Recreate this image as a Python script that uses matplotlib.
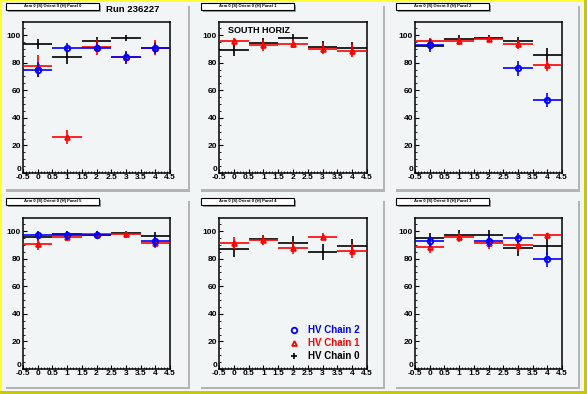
import numpy as np
import matplotlib
matplotlib.use("Agg")
import matplotlib.pyplot as plt
from matplotlib.patches import Rectangle
from matplotlib.lines import Line2D

plt.rcParams["font.family"] = ["Liberation Sans", "DejaVu Sans"]

W, H = 587, 394

# bins (strip groups) on x axis
bins = [0, 1, 2, 3, 4]
xerr = [0.5, 0.5, 0.5, 0.5, 0.5]

# pad titles, left->right, top->bottom
titles = ["Arm 0 (S) Orient 0 (H) Panel 0", "Arm 0 (S) Orient 0 (H) Panel 1",
          "Arm 0 (S) Orient 0 (H) Panel 2", "Arm 0 (S) Orient 0 (H) Panel 5",
          "Arm 0 (S) Orient 0 (H) Panel 4", "Arm 0 (S) Orient 0 (H) Panel 3"]

# HV Chain 0 (black)
chain0 = [[93.5, 83.8, 95.4, 97.6, 91.0],
          [89.4, 94.0, 98.0, 91.4, 91.0],
          [92.0, 97.3, 97.8, 95.4, 85.4],
          [95.6, 97.8, 97.3, 98.3, 96.3],
          [86.9, 94.2, 91.2, 84.9, 89.0],
          [94.9, 97.1, 97.1, 87.6, 89.0]]
chain0_err = [[3.6, 4.6, 3.0, 2.2, 4.0],
              [4.5, 4.0, 2.5, 4.0, 4.0],
              [3.0, 2.5, 2.0, 3.5, 5.0],
              [2.5, 2.5, 2.5, 2.0, 3.0],
              [6.0, 3.0, 5.5, 6.0, 5.5],
              [4.0, 3.5, 4.0, 5.5, 6.5]]

# HV Chain 1 (red)
chain1 = [[77.3, 25.9, 91.3, 84.0, 91.0],
          [96.0, 92.6, 93.9, 90.0, 88.8],
          [96.0, 95.4, 97.3, 93.2, 78.0],
          [90.3, 95.6, 97.8, 97.8, 91.5],
          [91.2, 93.4, 87.6, 95.9, 85.4],
          [88.3, 95.4, 91.2, 89.8, 96.9]]
chain1_err = [[8.0, 5.0, 5.6, 4.0, 5.5],
              [2.2, 4.0, 3.5, 4.0, 4.8],
              [2.0, 2.5, 2.0, 3.0, 4.0],
              [4.0, 3.0, 2.5, 2.5, 4.0],
              [4.5, 3.5, 4.5, 2.5, 5.0],
              [4.0, 3.5, 4.0, 4.0, 2.0]]

# HV Chain 2 (blue), nan = no entry
nan = np.nan
chain2 = [[75.0, 91.0, 91.0, 83.8, 90.3],
          [nan, nan, nan, nan, nan],
          [92.5, nan, nan, 75.8, 52.8],
          [96.9, 96.9, 97.4, nan, 92.7],
          [nan, nan, nan, nan, nan],
          [92.7, nan, 92.5, 94.9, 79.6]]
chain2_err = [[5.5, 3.6, 3.6, 4.6, 4.0],
              [0, 0, 0, 0, 0],
              [4.5, 0, 0, 5.5, 5.0],
              [3.0, 3.0, 3.0, 0, 4.0],
              [0, 0, 0, 0, 0],
              [4.0, 0, 4.0, 3.5, 5.5]]


def rect(x0, y0, x1, y1):
    return [x0 / W, 1 - y1 / H, (x1 - x0) / W, (y1 - y0) / H]


fig = plt.figure(figsize=(W / 100, H / 100), dpi=100, facecolor="#ffff00")
bg = "#f2f5f5"
# canvas frame
fig.patches.append(Rectangle((0, 0), 1, 1, transform=fig.transFigure,
                             facecolor="#c8c800", edgecolor="none", zorder=-10))
fig.patches.append(Rectangle((0, 3 / H), 1 - 3 / W, 1 - 3 / H, transform=fig.transFigure,
                             facecolor="#ffff33", edgecolor="none", zorder=-9))
fig.patches.append(Rectangle((2 / W, 3 / H), 1 - 5 / W, 1 - 5 / H, transform=fig.transFigure,
                             facecolor=bg, edgecolor="none", zorder=-8))

col_x = [(23, 170), (219, 367), (415, 562)]
row_y = [(22, 173), (218, 369)]
pad_x = [(2, 190), (197, 385), (392, 580)]
pad_y = [(2, 192), (197, 389)]

for i in range(6):
    r, c = divmod(i, 3)
    # pad shadow
    px0, px1 = pad_x[c]
    py0, py1 = pad_y[r]
    fig.patches.append(Rectangle(((px1 - 2.5) / W, 1 - py1 / H),
                                 2.5 / W, (py1 - py0 - 4) / H, transform=fig.transFigure,
                                 facecolor="#b4b4b4", edgecolor="none", zorder=-5))
    fig.patches.append(Rectangle(((px0 + 4) / W, 1 - py1 / H), (px1 - px0 - 4) / W, 2.5 / H,
                                 transform=fig.transFigure, facecolor="#b4b4b4",
                                 edgecolor="none", zorder=-5))
    # title box
    tx0, tx1 = px0 + 4, px0 + 97
    ty0, ty1 = py0 + 1, py0 + 8
    fig.patches.append(Rectangle(((tx0 + 1.5) / W, 1 - (ty1 + 1.5) / H), (tx1 - tx0) / W,
                                 (ty1 - ty0) / H, transform=fig.transFigure,
                                 facecolor="#9a9a9a", edgecolor="none", zorder=-4))
    fig.patches.append(Rectangle((tx0 / W, 1 - ty1 / H), (tx1 - tx0) / W, (ty1 - ty0) / H,
                                 transform=fig.transFigure, facecolor="white",
                                 edgecolor="black", linewidth=0.8, zorder=-3))
    fig.text((tx0 + tx1) / 2 / W, 1 - (ty0 + ty1) / 2 / H, titles[i], fontsize=3,
             fontweight="bold", ha="center", va="center")

    x0, x1 = col_x[c]
    y0, y1 = row_y[r]
    ax = fig.add_axes(rect(x0, y0, x1, y1))
    ax.set_facecolor(bg)
    ax.set_xlim(-0.5, 4.5)
    ax.set_ylim(0, 109.5)

    ax.errorbar(bins, chain0[i], xerr=xerr, yerr=chain0_err[i], fmt="none",
                ecolor="black", elinewidth=1.2, capsize=0, zorder=3)
    ax.errorbar(bins, chain1[i], xerr=xerr, yerr=chain1_err[i], fmt="^", color="red",
                ms=3.5, mfc="none", mew=1.3, elinewidth=1.2, capsize=0, zorder=4)
    ax.errorbar(bins, chain2[i], xerr=xerr, yerr=chain2_err[i], fmt="o", color="blue",
                ms=4, mfc="none", mew=1.3, elinewidth=1.2, capsize=0, zorder=5)

    ax.set_xticks(np.arange(-0.5, 4.51, 0.5))
    ax.set_xticklabels(["-0.5", "0", "0.5", "1", "1.5", "2", "2.5", "3", "3.5", "4", "4.5"])
    ax.set_xticks(np.arange(-0.5, 4.51, 0.1), minor=True)
    ax.set_yticks([0, 20, 40, 60, 80, 100])
    ax.set_yticks(np.arange(0, 109, 5), minor=True)
    ax.tick_params(direction="in", length=3, width=0.8, labelsize=6, pad=1.5)
    ax.tick_params(axis="x", pad=1.0)
    ax.tick_params(which="minor", direction="in", length=1.6, width=0.6)
    for lab in ax.get_xticklabels() + ax.get_yticklabels():
        lab.set_fontweight("bold")
    ax.get_yticklabels()[0].set_va("bottom")
    for s in ax.spines.values():
        s.set_linewidth(1.1)

    if i == 1:
        ax.text(0.06, 0.975, "SOUTH HORIZ", transform=ax.transAxes, fontsize=6.5,
                fontweight="bold", ha="left", va="top")
    if i == 4:
        handles = [Line2D([], [], ls="none", marker="o", color="blue", mfc="none", ms=4, mew=1.3),
                   Line2D([], [], ls="none", marker="^", color="red", mfc="none", ms=3.5, mew=1.3),
                   Line2D([], [], ls="none", marker="+", color="black", ms=5, mew=1.2)]
        leg = ax.legend(handles, ["HV Chain 2", "HV Chain 1", "HV Chain 0"], loc="lower right",
                        frameon=False, prop={"size": 7, "weight": "bold"},
                        labelcolor=["blue", "red", "black"], handletextpad=0.8,
                        labelspacing=0.3, borderaxespad=0.4, handlelength=1.2)

fig.text(106 / W, 1 - 9 / H, "Run 236227", fontsize=6.8, fontweight="bold",
         ha="left", va="center")

fig.savefig("out.png", dpi=100, facecolor=fig.get_facecolor())
